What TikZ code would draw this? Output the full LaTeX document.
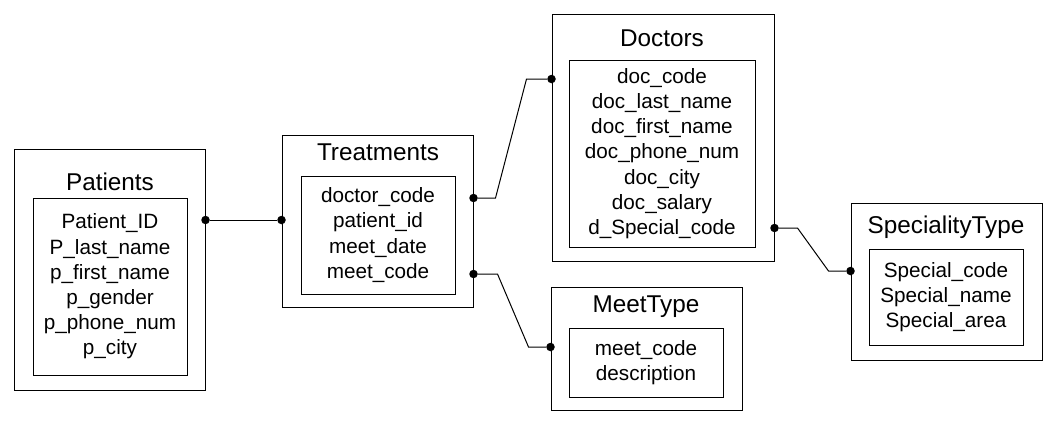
\documentclass[tikz,border=0pt]{standalone}
\usepackage{fontspec}
\setmainfont{Liberation Sans}
\begin{document}
\begin{tikzpicture}[x=1pt,y=-1pt]
\tikzstyle{entity}=[draw, line width=1pt, inner sep=0pt]
\tikzstyle{fields}=[draw, line width=1pt, inner sep=0pt, align=center, font=\fontsize{20.7}{25.2}\selectfont]
\tikzstyle{heading}=[anchor=base, inner sep=0pt, font=\fontsize{24.3}{28}\selectfont]
\tikzstyle{port}=[circle, fill, inner sep=0pt, minimum size=8.5pt]
\tikzstyle{link}=[line width=1pt]

\useasboundingbox (0,0) rectangle (1056,424);

\draw (109.5,269.5) node[entity, minimum width=191pt, minimum height=241pt] (pat) {};
\draw (110,190) node[heading] (patT) {Patients};
\draw (110,286.5) node[fields, minimum width=154pt, minimum height=177pt] (patF) {Patient\_ID\\P\_last\_name\\p\_first\_name\\p\_gender\\p\_phone\_num\\p\_city};

\draw (377.5,221) node[entity, minimum width=191pt, minimum height=172pt] (treat) {};
\draw (378,160) node[heading] (treatT) {Treatments};
\draw (378,235) node[fields, minimum width=154pt, minimum height=118pt] (treatF) {doctor\_code\\patient\_id\\meet\_date\\meet\_code};

\draw (663,137.5) node[entity, minimum width=222pt, minimum height=247pt] (doc) {};
\draw (662,46) node[heading] (docT) {Doctors};
\draw (662,153.5) node[fields, minimum width=186pt, minimum height=187pt] (docF) {doc\_code\\doc\_last\_name\\doc\_first\_name\\doc\_phone\_num\\doc\_city\\doc\_salary\\d\_Special\_code};

\draw (646.5,348.5) node[entity, minimum width=191pt, minimum height=123pt] (meet) {};
\draw (646,312) node[heading] (meetT) {MeetType};
\draw (646,362.5) node[fields, minimum width=154pt, minimum height=69pt] (meetF) {meet\_code\\description};

\draw (946.5,281.5) node[entity, minimum width=191pt, minimum height=157pt] (spec) {};
\draw (946,233) node[heading] (specT) {SpecialityType};
\draw (946,297) node[fields, minimum width=154pt, minimum height=96pt] (specF) {Special\_code\\Special\_name\\Special\_area};

\draw (pat.east |- 0,220) node[port] (patR) {};
\draw (treat.west |- 0,220) node[port] (treatL) {};
\draw (treat.east |- 0,198) node[port] (treatR1) {};
\draw (treat.east |- 0,274) node[port] (treatR2) {};
\draw (doc.west |- 0,79) node[port] (docL) {};
\draw (doc.east |- 0,228) node[port] (docR) {};
\draw (meet.west |- 0,347) node[port] (meetL) {};
\draw (spec.west |- 0,271) node[port] (specL) {};

\draw[link] (patR) -- (treatL);
\draw[link] (treatR1) -- ++(22,0) -- ([xshift=-25pt]docL.center) -- (docL);
\draw[link] (treatR2) -- ++(24,0) -- ([xshift=-22pt]meetL.center) -- (meetL);
\draw[link] (docR) -- ++(23,0) -- ([xshift=-22pt]specL.center) -- (specL);
\end{tikzpicture}
\end{document}
